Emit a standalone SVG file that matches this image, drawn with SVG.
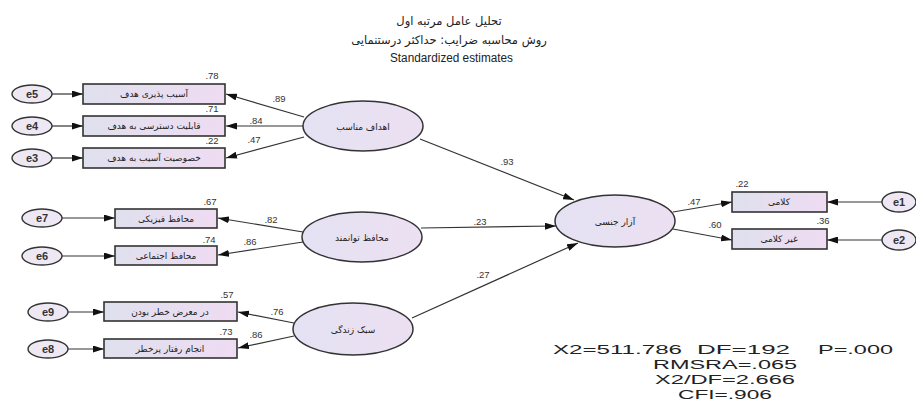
<svg xmlns="http://www.w3.org/2000/svg" width="916" height="403" viewBox="0 0 916 403">
<style>
.ar{font-family:"DejaVu Sans","Noto Sans",sans-serif;fill:#222;}
.lt{font-family:"Liberation Sans",Arial,sans-serif;fill:#222;}
.num{font-family:"Liberation Sans",Arial,sans-serif;font-size:9.5px;fill:#333;text-anchor:middle;}
.box{fill:url(#bg);stroke:#333;stroke-width:1.6;}
.lat{fill:url(#eg);stroke:#333;stroke-width:1.5;}
.err{fill:#eee8f4;stroke:#333;stroke-width:1.4;}
.cn{stroke:#333;stroke-width:1.2;fill:none;marker-end:url(#ah);}
.bt{font-size:9px;text-anchor:middle;}
.et{font-family:"Liberation Sans",Arial,sans-serif;font-size:11px;font-weight:bold;fill:#333;text-anchor:middle;}
.fit{font-size:13px;}
</style>
<defs>
<linearGradient id="bg" x1="0" y1="0" x2="1" y2="0">
<stop offset="0" stop-color="#dfe0ee"/>
<stop offset="1" stop-color="#efdcf2"/>
</linearGradient>
<linearGradient id="eg" x1="0" y1="0" x2="1" y2="0">
<stop offset="0" stop-color="#e4e2f2"/>
<stop offset="1" stop-color="#ece0f2"/>
</linearGradient>
<marker id="ah" markerUnits="userSpaceOnUse" markerWidth="12" markerHeight="7" refX="11" refY="3.5" orient="auto">
<path d="M0,0 L11,3.5 L0,7 z" fill="#111"/>
</marker>
</defs>
<rect width="916" height="403" fill="#fff"/>
<g id="title">
<text class="ar" x="449" y="25" font-size="11.5" text-anchor="middle">تحلیل عامل مرتبه اول</text>
<text class="ar" x="449" y="44" font-size="11.5" text-anchor="middle">روش محاسبه ضرایب: حداکثر درستنمایی</text>
<text class="lt" x="390" y="62" font-size="12.5" textLength="123" lengthAdjust="spacingAndGlyphs">Standardized estimates</text>
</g>
<g id="connectors">
<line class="cn" x1="52" y1="94" x2="83" y2="94"/>
<line class="cn" x1="52" y1="126" x2="83" y2="126"/>
<line class="cn" x1="52" y1="158" x2="83" y2="158"/>
<line class="cn" x1="62" y1="218" x2="115" y2="218"/>
<line class="cn" x1="62" y1="256" x2="115" y2="256"/>
<line class="cn" x1="68" y1="312" x2="104" y2="312"/>
<line class="cn" x1="68" y1="349" x2="104" y2="349"/>
<line class="cn" x1="882" y1="202" x2="827" y2="202"/>
<line class="cn" x1="882" y1="240" x2="827" y2="240"/>
<line class="cn" x1="304" y1="117" x2="226" y2="94"/>
<line class="cn" x1="303" y1="126" x2="226" y2="126"/>
<line class="cn" x1="304" y1="137" x2="226" y2="158"/>
<line class="cn" x1="303" y1="232" x2="218" y2="218"/>
<line class="cn" x1="303" y1="242" x2="218" y2="255"/>
<line class="cn" x1="294" y1="323" x2="238" y2="312"/>
<line class="cn" x1="294" y1="336" x2="238" y2="348"/>
<line class="cn" x1="420" y1="139" x2="574" y2="200"/>
<line class="cn" x1="421" y1="228" x2="556" y2="226"/>
<line class="cn" x1="412" y1="318" x2="578" y2="243"/>
<line class="cn" x1="673" y1="212" x2="732" y2="202"/>
<line class="cn" x1="673" y1="229" x2="732" y2="240"/>
</g>
<g id="loadings">
<text class="num" x="279" y="102">.89</text>
<text class="num" x="256" y="124">.84</text>
<text class="num" x="254" y="143">.47</text>
<text class="num" x="271" y="223">.82</text>
<text class="num" x="250" y="245">.86</text>
<text class="num" x="277" y="315">.76</text>
<text class="num" x="256" y="338">.86</text>
<text class="num" x="507" y="165">.93</text>
<text class="num" x="480" y="225">.23</text>
<text class="num" x="483" y="278">.27</text>
<text class="num" x="694" y="205">.47</text>
<text class="num" x="715" y="228">.60</text>
</g>
<g id="e5"><ellipse class="err" cx="32" cy="94" rx="20" ry="9"/><text class="et" x="32" y="98">e5</text></g>
<g id="e4"><ellipse class="err" cx="32" cy="126" rx="20" ry="9"/><text class="et" x="32" y="130">e4</text></g>
<g id="e3"><ellipse class="err" cx="32" cy="158" rx="20" ry="9"/><text class="et" x="32" y="162">e3</text></g>
<g id="e7"><ellipse class="err" cx="42" cy="218" rx="20" ry="9"/><text class="et" x="42" y="222">e7</text></g>
<g id="e6"><ellipse class="err" cx="42" cy="256" rx="20" ry="9"/><text class="et" x="42" y="260">e6</text></g>
<g id="e9"><ellipse class="err" cx="48" cy="312" rx="20" ry="9"/><text class="et" x="48" y="316">e9</text></g>
<g id="e8"><ellipse class="err" cx="48" cy="349" rx="20" ry="9"/><text class="et" x="48" y="353">e8</text></g>
<g id="e1"><ellipse class="err" cx="899" cy="202" rx="17" ry="10"/><text class="et" x="899" y="206">e1</text></g>
<g id="e2"><ellipse class="err" cx="899" cy="240" rx="17" ry="10"/><text class="et" x="899" y="244">e2</text></g>
<g id="b1"><rect class="box" x="83" y="84" width="142" height="20"/><text class="ar bt" x="154" y="97">آسیب پذیری هدف</text><text class="num" x="212" y="79">.78</text></g>
<g id="b2"><rect class="box" x="83" y="116" width="142" height="20"/><text class="ar bt" x="154" y="129">قابلیت دسترسی به هدف</text><text class="num" x="212" y="112">.71</text></g>
<g id="b3"><rect class="box" x="83" y="148" width="142" height="20"/><text class="ar bt" x="154" y="161">خصوصیت آسیب به هدف</text><text class="num" x="212" y="144">.22</text></g>
<g id="b4"><rect class="box" x="115" y="209" width="102" height="19"/><text class="ar bt" x="166" y="222">محافظ فیزیکی</text><text class="num" x="210" y="205">.67</text></g>
<g id="b5"><rect class="box" x="115" y="246" width="102" height="19"/><text class="ar bt" x="166" y="259">محافظ اجتماعی</text><text class="num" x="209" y="243">.74</text></g>
<g id="b6"><rect class="box" x="104" y="302" width="133" height="19"/><text class="ar bt" x="170" y="315">در معرض خطر بودن</text><text class="num" x="227" y="298">.57</text></g>
<g id="b7"><rect class="box" x="104" y="339" width="133" height="19"/><text class="ar bt" x="170" y="352">انجام رفتار پرخطر</text><text class="num" x="226" y="335">.73</text></g>
<g id="r1"><rect class="box" x="732" y="192" width="95" height="20"/><text class="ar bt" x="779" y="205">کلامی</text><text class="num" x="742" y="187">.22</text></g>
<g id="r2"><rect class="box" x="732" y="229" width="95" height="20"/><text class="ar bt" x="779" y="242">غیر کلامی</text><text class="num" x="823" y="224">.36</text></g>
<g id="l1"><ellipse class="lat" cx="363" cy="126" rx="60" ry="25"/><text class="ar bt" x="363" y="130">اهداف مناسب</text></g>
<g id="l2"><ellipse class="lat" cx="362" cy="237" rx="60" ry="25"/><text class="ar bt" x="362" y="241">محافظ توانمند</text></g>
<g id="l3"><ellipse class="lat" cx="353" cy="329" rx="60" ry="26"/><text class="ar bt" x="353" y="333">سبک زندگی</text></g>
<g id="c"><ellipse class="lat" cx="615" cy="221" rx="60" ry="26"/><text class="ar bt" x="615" y="225">آزار جنسی</text></g>
<g id="fit">
<text class="lt fit" x="553" y="354" textLength="129" lengthAdjust="spacingAndGlyphs">X2=511.786</text>
<text class="lt fit" x="697" y="354" textLength="93" lengthAdjust="spacingAndGlyphs">DF=192</text>
<text class="lt fit" x="818" y="354" textLength="75" lengthAdjust="spacingAndGlyphs">P=.000</text>
<text class="lt fit" x="653" y="369" textLength="144" lengthAdjust="spacingAndGlyphs">RMSRA=.065</text>
<text class="lt fit" x="655" y="384" textLength="140" lengthAdjust="spacingAndGlyphs">X2/DF=2.666</text>
<text class="lt fit" x="678" y="399" textLength="94" lengthAdjust="spacingAndGlyphs">CFI=.906</text>
</g>
</svg>
